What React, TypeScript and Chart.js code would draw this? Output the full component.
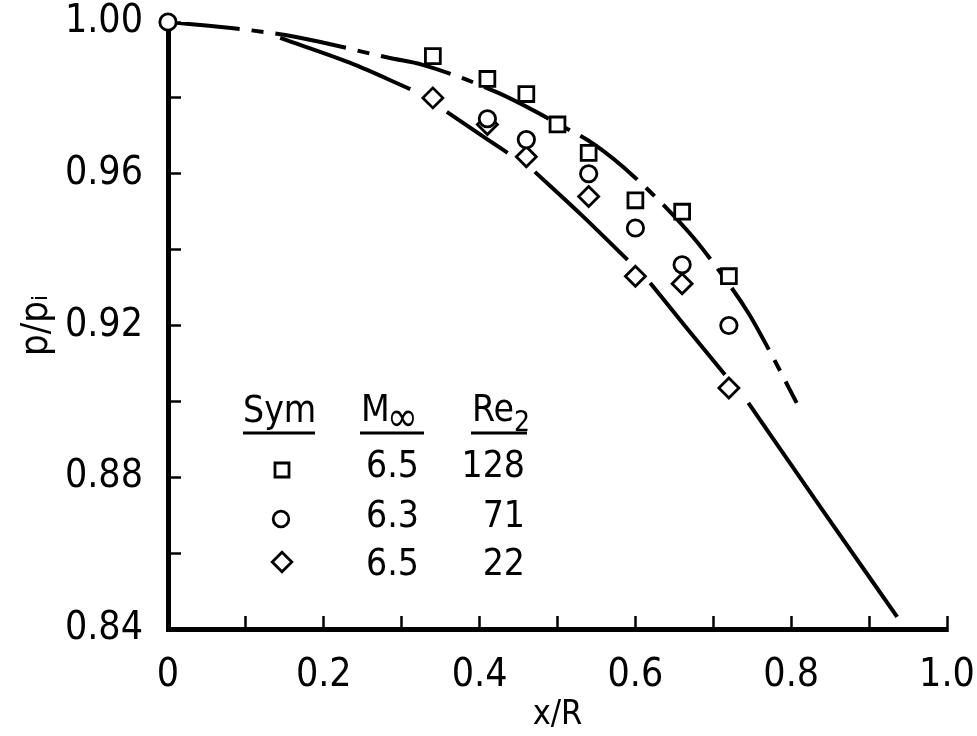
import React, { useEffect, useRef } from 'react';
import { Chart, registerables } from 'chart.js';

Chart.register(...registerables);

// ---- data ----
const squaresX = [0.34, 0.41, 0.46, 0.5, 0.54, 0.6, 0.66, 0.72];
const squaresY = [0.991, 0.985, 0.981, 0.973, 0.9655, 0.953, 0.95, 0.933];

const circlesX = [0, 0.41, 0.46, 0.54, 0.6, 0.66, 0.72];
const circlesY = [1.0, 0.9745, 0.969, 0.96, 0.9457, 0.936, 0.92];

const diamondsX = [0.34, 0.41, 0.46, 0.54, 0.6, 0.66, 0.72];
const diamondsY = [0.98, 0.973, 0.9645, 0.954, 0.933, 0.931, 0.9035];

// dash-dot fairing (upper)
const upperX = [0, 0.103, 0.166, 0.285, 0.327, 0.424, 0.503, 0.548, 0.599, 0.668, 0.7, 0.745, 0.773, 0.807];
const upperY = [1.0, 0.9979, 0.996, 0.9905, 0.9887, 0.9813, 0.9729, 0.9676, 0.9591, 0.9447, 0.9365, 0.9233, 0.913, 0.8996];

// solid fairing (lower), broken where it passes the symbols (null = break)
const lowerX = [0.144, 0.234, 0.311, null, 0.358, 0.409, 0.436, null, 0.471, 0.531, 0.59, null, 0.619, 0.666, 0.715, null, 0.745, 0.84, 0.936];
const lowerY = [0.9958, 0.9892, 0.9823, null, 0.9763, 0.9692, 0.9655, null, 0.9605, 0.9491, 0.9373, null, 0.9312, 0.9193, 0.907, null, 0.8996, 0.8714, 0.8432];

const xTickLabels = ['0', '0.2', '0.4', '0.6', '0.8', '1.0'];
const yTickLabels = ['0.84', '0.88', '0.92', '0.96', '1.00'];

const legendMach = ['6.5', '6.3', '6.5'];
const legendRe = ['128', '71', '22'];

const FONT = "'DejaVu Sans Condensed', 'Liberation Sans Narrow', 'DejaVu Sans', sans-serif";

const pts = (xs: (number | null)[], ys: (number | null)[]) =>
  xs.map((x, i) => ({ x: x as any, y: ys[i] as any }));

const legendTable = {
  id: 'legendTable',
  afterDraw(chart: any) {
    const ctx: CanvasRenderingContext2D = chart.ctx;
    ctx.save();
    ctx.fillStyle = '#000';
    ctx.strokeStyle = '#000';
    ctx.textBaseline = 'alphabetic';
    ctx.textAlign = 'left';
    ctx.font = `37px ${FONT}`;
    ctx.fillText('Sym', 243, 422);
    ctx.fillText('M', 361, 421);
    const mW = ctx.measureText('M').width;
    ctx.fillText('Re', 472, 421);
    const reW = ctx.measureText('Re').width;
    ctx.font = `42px ${FONT}`;
    ctx.fillText('\u221E', 361 + mW - 3, 431);
    ctx.font = `28px ${FONT}`;
    ctx.fillText('2', 472 + reW, 431);
    ctx.lineWidth = 3;
    [[243, 315], [360, 424], [471, 527]].forEach(([a, b]) => {
      ctx.beginPath();
      ctx.moveTo(a, 433);
      ctx.lineTo(b, 433);
      ctx.stroke();
    });
    const rowY = [477, 527, 575];
    ctx.font = `37px ${FONT}`;
    legendMach.forEach((m, i) => {
      ctx.textAlign = 'left';
      ctx.fillText(m, 366, rowY[i]);
      ctx.textAlign = 'right';
      ctx.fillText(legendRe[i], 525, rowY[i]);
    });
    // symbols
    ctx.lineWidth = 2.8;
    ctx.fillStyle = '#fff';
    ctx.beginPath();
    ctx.rect(282 - 7, 470 - 7, 14, 14);
    ctx.fill();
    ctx.stroke();
    ctx.beginPath();
    ctx.arc(281, 519, 7.8, 0, Math.PI * 2);
    ctx.fill();
    ctx.stroke();
    ctx.beginPath();
    ctx.moveTo(282, 562 - 9.8);
    ctx.lineTo(282 + 9.8, 562);
    ctx.lineTo(282, 562 + 9.8);
    ctx.lineTo(282 - 9.8, 562);
    ctx.closePath();
    ctx.fill();
    ctx.stroke();
    ctx.restore();
  },
};

export default function App() {
  const ref = useRef<HTMLCanvasElement>(null);
  useEffect(() => {
    if (!ref.current) return;
    Chart.defaults.color = '#000';
    const marker = (style: string, radius: number) => ({
      showLine: false,
      clip: false,
      pointStyle: style,
      pointRadius: radius,
      pointHoverRadius: radius,
      pointBorderWidth: 2.8,
      pointBorderColor: '#000',
      pointBackgroundColor: '#fff',
      borderColor: '#000',
      backgroundColor: '#fff',
    });
    const chart = new Chart(ref.current, {
      type: 'scatter',
      data: {
        datasets: [
          { label: 'square', data: pts(squaresX, squaresY), ...marker('rect', 10.5) } as any,
          { label: 'circle', data: pts(circlesX, circlesY), ...marker('circle', 8.2) } as any,
          { label: 'diamond', data: pts(diamondsX, diamondsY), ...marker('rectRot', 10) } as any,
          {
            label: 'upper',
            type: 'line',
            data: pts(upperX, upperY),
            showLine: true,
            borderColor: '#000',
            borderWidth: 4,
            borderDash: [72, 12, 12, 12],
            pointRadius: 0,
            cubicInterpolationMode: 'monotone',
            fill: false,
          } as any,
          {
            label: 'lower',
            type: 'line',
            data: pts(lowerX, lowerY),
            showLine: true,
            spanGaps: false,
            borderColor: '#000',
            borderWidth: 4,
            pointRadius: 0,
            cubicInterpolationMode: 'monotone',
            fill: false,
          } as any,
        ],
      },
      options: {
        animation: false,
        responsive: false,
        devicePixelRatio: 1,
        layout: { padding: { top: 22, right: 30, left: 0, bottom: 0 } },
        plugins: { legend: { display: false }, tooltip: { enabled: false } },
        scales: {
          x: {
            type: 'linear',
            min: 0,
            max: 1,
            afterFit: (s: any) => {
              s.height = 107;
              s.paddingLeft = 0;
              s.paddingRight = 0;
            },
            ticks: {
              stepSize: 0.1,
              padding: 36,
              maxRotation: 0,
              autoSkip: false,
              font: { family: FONT, size: 39 },
              color: '#000',
              callback: (v: any) => {
                const r = Math.round(Number(v) * 10) / 10;
                const s = r === 0 ? '0' : r.toFixed(1);
                return xTickLabels.includes(s) ? s : '';
              },
            },
            grid: { drawOnChartArea: false, tickLength: -13, tickWidth: 2.5, tickColor: '#000' },
            border: { display: true, width: 5, color: '#000' },
            title: {
              display: true,
              text: 'x/R',
              font: { family: FONT, size: 34 },
              color: '#000',
              padding: { top: 0, bottom: 0 },
            },
          },
          y: {
            type: 'linear',
            min: 0.84,
            max: 1.0,
            afterFit: (s: any) => {
              s.width = 168;
              s.paddingTop = 0;
              s.paddingBottom = 0;
            },
            ticks: {
              stepSize: 0.02,
              padding: 38,
              autoSkip: false,
              font: { family: FONT, size: 39 },
              color: '#000',
              callback: (v: any) => {
                const s = Number(v).toFixed(2);
                return yTickLabels.includes(s) ? s : '';
              },
            },
            grid: { drawOnChartArea: false, tickLength: -13, tickWidth: 2.5, tickColor: '#000' },
            border: { display: true, width: 5, color: '#000' },
            title: {
              display: true,
              text: 'p/p\u1D62',
              font: { family: FONT, size: 38 },
              color: '#000',
              padding: { top: 14, bottom: 0 },
            },
          },
        },
      },
      plugins: [legendTable],
    } as any);
    return () => chart.destroy();
  }, []);
  return (
    <div style={{ position: 'fixed', left: 0, top: 0, width: 977, height: 736, background: '#fff' }}>
      <canvas ref={ref} width={977} height={736} style={{ width: 977, height: 736, display: 'block' }} />
    </div>
  );
}
